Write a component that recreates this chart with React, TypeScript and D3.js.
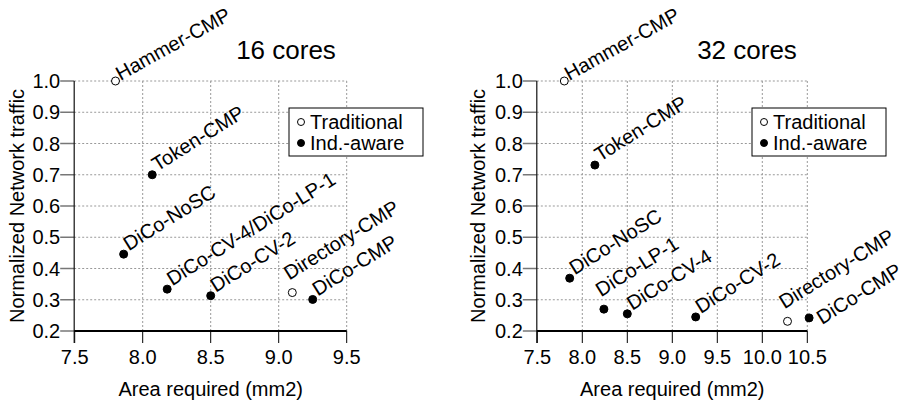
import React from "react";
import * as d3 from "d3";

// ---- Data ----
const labels16 = ["Hammer-CMP", "Token-CMP", "DiCo-NoSC", "DiCo-CV-4/DiCo-LP-1", "DiCo-CV-2", "Directory-CMP", "DiCo-CMP"];
const area16 = [7.8, 8.07, 7.86, 8.18, 8.5, 9.1, 9.25];
const traffic16 = [1.0, 0.7, 0.446, 0.334, 0.313, 0.323, 0.301];
const kind16 = ["Traditional", "Ind.-aware", "Ind.-aware", "Ind.-aware", "Ind.-aware", "Traditional", "Ind.-aware"];
const place16 = ["top", "right", "right", "right", "right", "above", "right"];

const labels32 = ["Hammer-CMP", "Token-CMP", "DiCo-NoSC", "DiCo-LP-1", "DiCo-CV-4", "DiCo-CV-2", "Directory-CMP", "DiCo-CMP"];
const area32 = [7.8, 8.14, 7.86, 8.24, 8.5, 9.26, 10.28, 10.52];
const traffic32 = [1.0, 0.731, 0.369, 0.27, 0.255, 0.245, 0.231, 0.242];
const kind32 = ["Traditional", "Ind.-aware", "Ind.-aware", "Ind.-aware", "Ind.-aware", "Ind.-aware", "Traditional", "Ind.-aware"];
const place32 = ["top", "right", "right", "above", "right", "right", "above", "far"];

const xTicks16 = [7.5, 8.0, 8.5, 9.0, 9.5];
const xTicks32 = [7.5, 8.0, 8.5, 9.0, 9.5, 10.0, 10.5];
const yTicks = [0.2, 0.3, 0.4, 0.5, 0.6, 0.7, 0.8, 0.9, 1.0];
const legendItems = ["Traditional", "Ind.-aware"];
const titles = ["16 cores", "32 cores"];
const xTitle = "Area required (mm2)";
const yTitle = "Normalized Network traffic";

const FONT = "'Liberation Sans', Arial, Helvetica, sans-serif";
const OFFSETS: Record<string, [number, number, number]> = {
  top: [5, 0, -29],
  right: [5, -3, -32],
  above: [-3, -12, -32],
  far: [13, 7, -32],
};

type PanelProps = {
  x0: number;
  x1: number;
  xDomain: [number, number];
  xTicks: number[];
  labels: string[];
  area: number[];
  traffic: number[];
  kind: string[];
  place: string[];
  title: string;
  titleX: number;
  yLabelX: number;
  legendX: number;
};

function Panel(p: PanelProps) {
  const x = d3.scaleLinear().domain(p.xDomain).range([p.x0, p.x1]);
  const y = d3.scaleLinear().domain([0.2, 1.0]).range([331, 81]);
  const yTop = y(1.0);
  const yBot = y(0.2);
  const axisX = p.x0 - 0.5;
  const fmt = d3.format(".1f");
  return (
    <g fontFamily={FONT}>
      {/* grid */}
      {p.xTicks.slice(1).map((t) => (
        <line key={"gx" + t} x1={x(t)} x2={x(t)} y1={yTop} y2={yBot} stroke="#999" strokeWidth={1} strokeDasharray="2,2" />
      ))}
      {yTicks.slice(1).map((t) => (
        <line key={"gy" + t} x1={axisX} x2={x(p.xDomain[1])} y1={y(t)} y2={y(t)} stroke="#999" strokeWidth={1} strokeDasharray="2,2" />
      ))}
      {/* y ticks */}
      {yTicks.map((t) => (
        <line key={"ty" + t} x1={axisX - 14} x2={axisX} y1={y(t)} y2={y(t)} stroke="#777" strokeWidth={1.5} />
      ))}
      {yTicks.map((t) => (
        <text key={"ly" + t} x={axisX - 14} y={y(t) + 7} fontSize={20} textAnchor="end" fill="#000">
          {fmt(t)}
        </text>
      ))}
      {/* x ticks */}
      {p.xTicks.map((t) => (
        <line key={"tx" + t} x1={x(t)} x2={x(t)} y1={yBot} y2={yBot + 12} stroke="#000" strokeWidth={1} />
      ))}
      {p.xTicks.map((t) => (
        <text key={"lx" + t} x={x(t)} y={364} fontSize={20} textAnchor="middle" fill="#000">
          {fmt(t)}
        </text>
      ))}
      {/* axes */}
      <line x1={axisX} x2={axisX} y1={yTop} y2={yBot + 12} stroke="#111" strokeWidth={1.2} />
      <line x1={axisX} x2={x(p.xDomain[1])} y1={yBot} y2={yBot} stroke="#000" strokeWidth={2} />
      {/* titles */}
      <text x={p.titleX} y={59} fontSize={26} textAnchor="middle" fill="#000">
        {p.title}
      </text>
      <text x={(p.x0 + p.x1) / 2} y={396} fontSize={20} textAnchor="middle" fill="#000">
        {xTitle}
      </text>
      <text transform={`translate(${p.yLabelX},${(yTop + yBot) / 2}) rotate(-90)`} fontSize={20} textAnchor="middle" fill="#000">
        {yTitle}
      </text>
      {/* points */}
      {p.labels.map((l, i) => {
        const px = x(p.area[i]);
        const py = y(p.traffic[i]);
        const trad = p.kind[i] === "Traditional";
        const [dx, dy, rot] = OFFSETS[p.place[i]];
        return (
          <g key={l}>
            <circle cx={px} cy={py} r={4} fill={trad ? "#fff" : "#000"} stroke="#000" strokeWidth={1} />
            <text transform={`translate(${px + dx},${py + dy}) rotate(${rot})`} fontSize={20} fill="#000">
              {l}
            </text>
          </g>
        );
      })}
      {/* legend */}
      <rect x={p.legendX} y={108} width={134} height={48} fill="#fff" stroke="#000" strokeWidth={1} />
      {legendItems.map((it, i) => (
        <g key={it}>
          <circle cx={p.legendX + 12} cy={122 + i * 21} r={3.5} fill={i === 0 ? "#fff" : "#000"} stroke="#000" strokeWidth={1} />
          <text x={p.legendX + 21} y={129 + i * 21} fontSize={20} fill="#000">
            {it}
          </text>
        </g>
      ))}
    </g>
  );
}

export default function App() {
  return (
    <svg width={911} height={406} style={{ position: "absolute", left: 0, top: 0, background: "#fff" }}>
      <rect width={911} height={406} fill="#fff" />
      <Panel
        x0={74.7}
        x1={346.7}
        xDomain={[7.5, 9.5]}
        xTicks={xTicks16}
        labels={labels16}
        area={area16}
        traffic={traffic16}
        kind={kind16}
        place={place16}
        title={titles[0]}
        titleX={286}
        yLabelX={24}
        legendX={289}
      />
      <Panel
        x0={537.3}
        x1={807.3}
        xDomain={[7.5, 10.5]}
        xTicks={xTicks32}
        labels={labels32}
        area={area32}
        traffic={traffic32}
        kind={kind32}
        place={place32}
        title={titles[1]}
        titleX={747}
        yLabelX={485}
        legendX={752}
      />
    </svg>
  );
}
